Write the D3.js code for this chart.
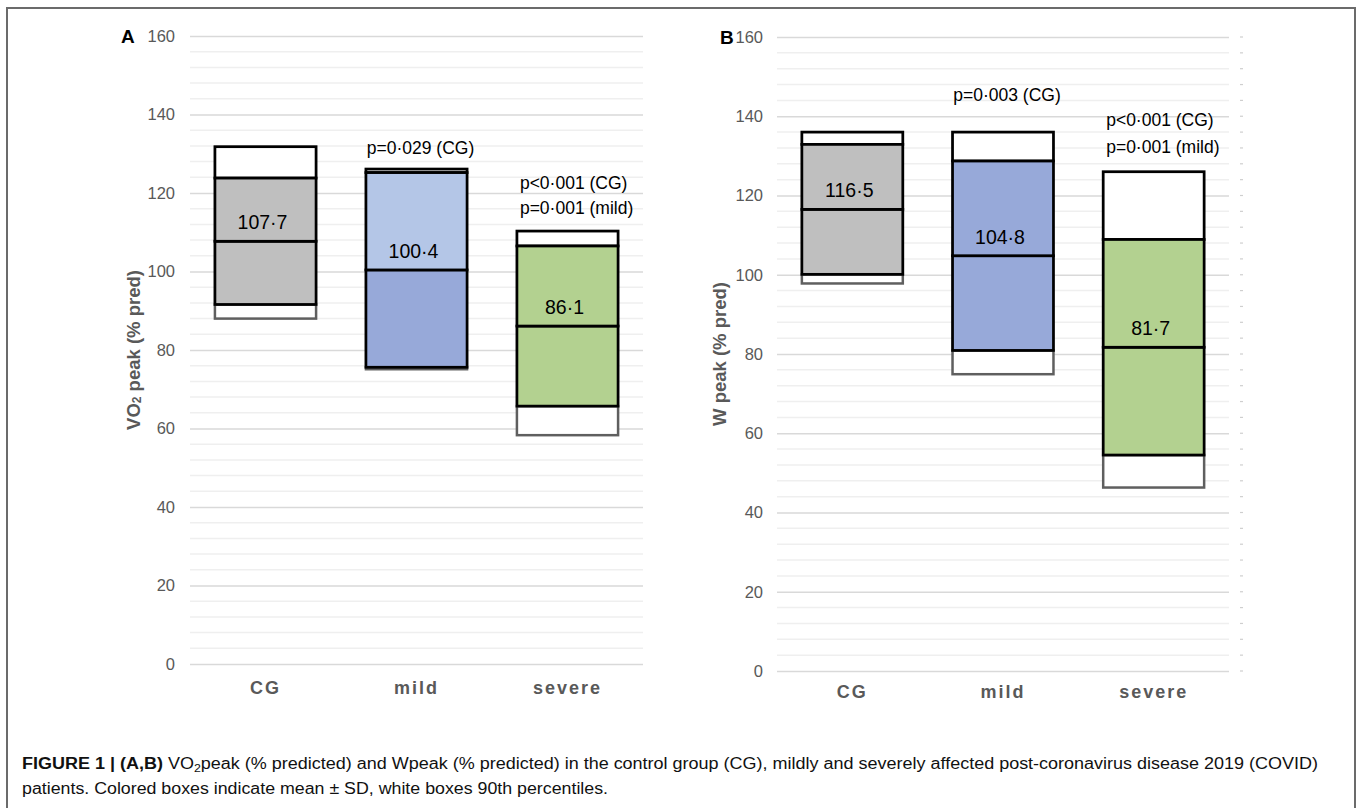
<!DOCTYPE html>
<html>
<head>
<meta charset="utf-8">
<script src="https://cdn.jsdelivr.net/npm/d3@7/dist/d3.min.js"></script>
<style>
  html, body { margin: 0; padding: 0; background: #fff; }
  svg { display: block; }
</style>
</head>
<body>
<svg id="chart" width="1357" height="808"></svg>
<script>
// ---------------- DATA ----------------
const categories = ["CG", "mild", "severe"];
const yTicks = [0, 20, 40, 60, 80, 100, 120, 140, 160];

// Panel A: VO2 peak (% pred)
const vo2Mean = [107.7, 100.4, 86.1];
const vo2SD   = [16.1, 24.8, 20.4];
const vo2P5   = [88.0, 75.1, 58.3];
const vo2P95  = [131.8, 126.1, 110.3];
const vo2Labels = ["107·7", "100·4", "86·1"];
const vo2PText  = [[], ["p=0·029 (CG)"], ["p<0·001 (CG)", "p=0·001 (mild)"]];
const vo2PAt    = [[], [131.5], [122.5, 116.2]];

// Panel B: W peak (% pred)
const wMean = [116.5, 104.8, 81.7];
const wSD   = [16.4, 23.9, 27.2];
const wP5   = [97.8, 74.9, 46.3];
const wP95  = [136.0, 136.0, 126.0];
const wLabels = ["116·5", "104·8", "81·7"];
const wPText  = [[], ["p=0·003 (CG)"], ["p<0·001 (CG)", "p=0·001 (mild)"]];
const wPAt    = [[], [145.4], [139.1, 132.3]];

// ---------------- STYLE ----------------
const FONT = "'Liberation Sans', Arial, sans-serif";
const svg = d3.select("#chart");

// frame
svg.append("rect").attr("x", 7).attr("y", 8).attr("width", 1348).attr("height", 830)
  .attr("fill", "none").attr("stroke", "#6b6b6b").attr("stroke-width", 2);

function panel(opts) {
  const { x0, x1, yTop, yBot, mean, sd, p5, p95, labels, pText, pAt,
          upperColors, lowerColors, letter, letterX, tickRight, titleX, catDy, titleParts, pAlignLeft } = opts;
  const g = svg.append("g");
  const x = d3.scaleBand().domain(categories).range([x0, x1]).paddingInner(0.33).paddingOuter(0.165);
  const y = d3.scaleLinear().domain([0, 160]).range([yBot, yTop]);

  // minor grid (every 4)
  const minor = d3.range(0, 161, 4).filter(v => v % 20 !== 0);
  g.selectAll(".minor").data(minor).join("line")
    .attr("x1", x0).attr("x2", x1).attr("y1", d => y(d)).attr("y2", d => y(d))
    .attr("stroke", "#efefef").attr("stroke-width", 1.5);
  // major grid via axis
  const axis = d3.axisLeft(y).tickValues(yTicks).tickSize(-(x1 - x0)).tickPadding(15);
  const ag = g.append("g").attr("transform", `translate(${x0},0)`).call(axis);
  ag.select(".domain").remove();
  ag.selectAll(".tick line").attr("stroke", "#d9d9d9").attr("stroke-width", 1.5);
  ag.selectAll(".tick text").attr("font-family", FONT).attr("font-size", 16.5).attr("fill", "#595959")
    .attr("x", tickRight - x0).attr("text-anchor", "end");

  // boxes
  categories.forEach((c, i) => {
    const bx = x(c), bw = x.bandwidth();
    const lo = mean[i] - sd[i], hi = mean[i] + sd[i];
    // lower white box
    g.append("rect").attr("x", bx).attr("width", bw)
      .attr("y", y(lo)).attr("height", y(p5[i]) - y(lo))
      .attr("fill", "#fff").attr("stroke", "#5f5f5f").attr("stroke-width", 2.5);
    // upper white box
    g.append("rect").attr("x", bx).attr("width", bw)
      .attr("y", y(p95[i])).attr("height", y(hi) - y(p95[i]))
      .attr("fill", "#fff").attr("stroke", "#000").attr("stroke-width", 2.75);
    // colored lower half
    g.append("rect").attr("x", bx).attr("width", bw)
      .attr("y", y(mean[i])).attr("height", y(lo) - y(mean[i]))
      .attr("fill", lowerColors[i]).attr("stroke", "#000").attr("stroke-width", 2.75);
    // colored upper half
    g.append("rect").attr("x", bx).attr("width", bw)
      .attr("y", y(hi)).attr("height", y(mean[i]) - y(hi))
      .attr("fill", upperColors[i]).attr("stroke", "#000").attr("stroke-width", 2.75);
    // mean label
    g.append("text").attr("x", bx + bw / 2 - 3).attr("y", y(mean[i]) - 19)
      .attr("dominant-baseline", "central").attr("text-anchor", "middle")
      .attr("font-family", FONT).attr("font-size", 19.5).attr("fill", "#000").text(labels[i]);
    // p-value annotations
    pText[i].forEach((t, j) => {
      const tx = g.append("text").attr("y", y(pAt[i][j])).attr("dominant-baseline", "central")
        .attr("font-family", FONT).attr("font-size", 17.5).attr("fill", "#000").text(t);
      if (pText[i].length > 1 && pAlignLeft) tx.attr("x", bx + 3).attr("text-anchor", "start");
      else tx.attr("x", bx + bw / 2 + 4).attr("text-anchor", "middle");
    });
    // category label
    g.append("text").attr("x", bx + bw / 2).attr("y", y(0) + catDy)
      .attr("dominant-baseline", "central").attr("text-anchor", "middle")
      .attr("font-family", FONT).attr("font-size", 18).attr("font-weight", "bold")
      .attr("letter-spacing", 2).attr("fill", "#595959").text(c);
  });

  // panel letter
  g.append("text").attr("x", letterX).attr("y", y(160)).attr("dominant-baseline", "central")
    .attr("font-family", FONT).attr("font-size", 19).attr("font-weight", "bold").attr("fill", "#000").text(letter);

  // y title
  const tt = g.append("text").attr("transform", `translate(${titleX},${(yTop + yBot) / 2}) rotate(-90)`)
    .attr("text-anchor", "middle").attr("dominant-baseline", "central")
    .attr("font-family", FONT).attr("font-size", 18.5).attr("font-weight", "bold").attr("fill", "#595959");
  titleParts.forEach(p => {
    const ts = tt.append("tspan").text(p.t);
    if (p.sub) ts.attr("font-size", 12).attr("dy", 4);
    if (p.after) ts.attr("dy", -4);
  });
  return { x, y };
}

const pB = panel({
  x0: 777, x1: 1229, yTop: 37, yBot: 671,
  mean: wMean, sd: wSD, p5: wP5, p95: wP95, labels: wLabels, pText: wPText, pAt: wPAt,
  upperColors: ["#bfbfbf", "#97a9d9", "#b3d190"],
  lowerColors: ["#bfbfbf", "#97a9d9", "#b3d190"],
  letter: "B", letterX: 720, tickRight: 763, titleX: 719, catDy: 21, pAlignLeft: true,
  titleParts: [{ t: "W peak (% pred)" }]
});

const pA = panel({
  x0: 190, x1: 643, yTop: 36, yBot: 664,
  mean: vo2Mean, sd: vo2SD, p5: vo2P5, p95: vo2P95, labels: vo2Labels, pText: vo2PText, pAt: vo2PAt,
  upperColors: ["#bfbfbf", "#b4c6e7", "#b3d190"],
  lowerColors: ["#bfbfbf", "#97a9d9", "#b3d190"],
  letter: "A", letterX: 121, tickRight: 175, titleX: 133, catDy: 24, pAlignLeft: true,
  titleParts: [{ t: "VO" }, { t: "2", sub: true }, { t: " peak (% pred)", after: true }]
});

// secondary-axis dashes at right of panel B
const minorB = d3.range(0, 161, 4);
svg.append("g").selectAll("line").data(minorB).join("line")
  .attr("x1", 1240).attr("x2", 1243).attr("y1", d => pB.y(d)).attr("y2", d => pB.y(d))
  .attr("stroke", "#cfcfcf").attr("stroke-width", 1.2);

// caption
const cap1 = svg.append("text").attr("x", 22).attr("y", 769)
  .attr("font-family", FONT).attr("font-size", 16).attr("fill", "#111")
  .attr("textLength", 1296).attr("lengthAdjust", "spacingAndGlyphs");
cap1.append("tspan").attr("font-weight", "bold").text("FIGURE 1 | (A,B)");
cap1.append("tspan").text(" VO");
cap1.append("tspan").attr("font-size", 11).attr("dy", 3).text("2");
cap1.append("tspan").attr("dy", -3).text("peak (% predicted) and Wpeak (% predicted) in the control group (CG), mildly and severely affected post-coronavirus disease 2019 (COVID)");

svg.append("text").attr("x", 22).attr("y", 794)
  .attr("font-family", FONT).attr("font-size", 16).attr("fill", "#111")
  .attr("textLength", 586).attr("lengthAdjust", "spacingAndGlyphs")
  .text("patients. Colored boxes indicate mean ± SD, white boxes 90th percentiles.");
</script>
</body>
</html>
